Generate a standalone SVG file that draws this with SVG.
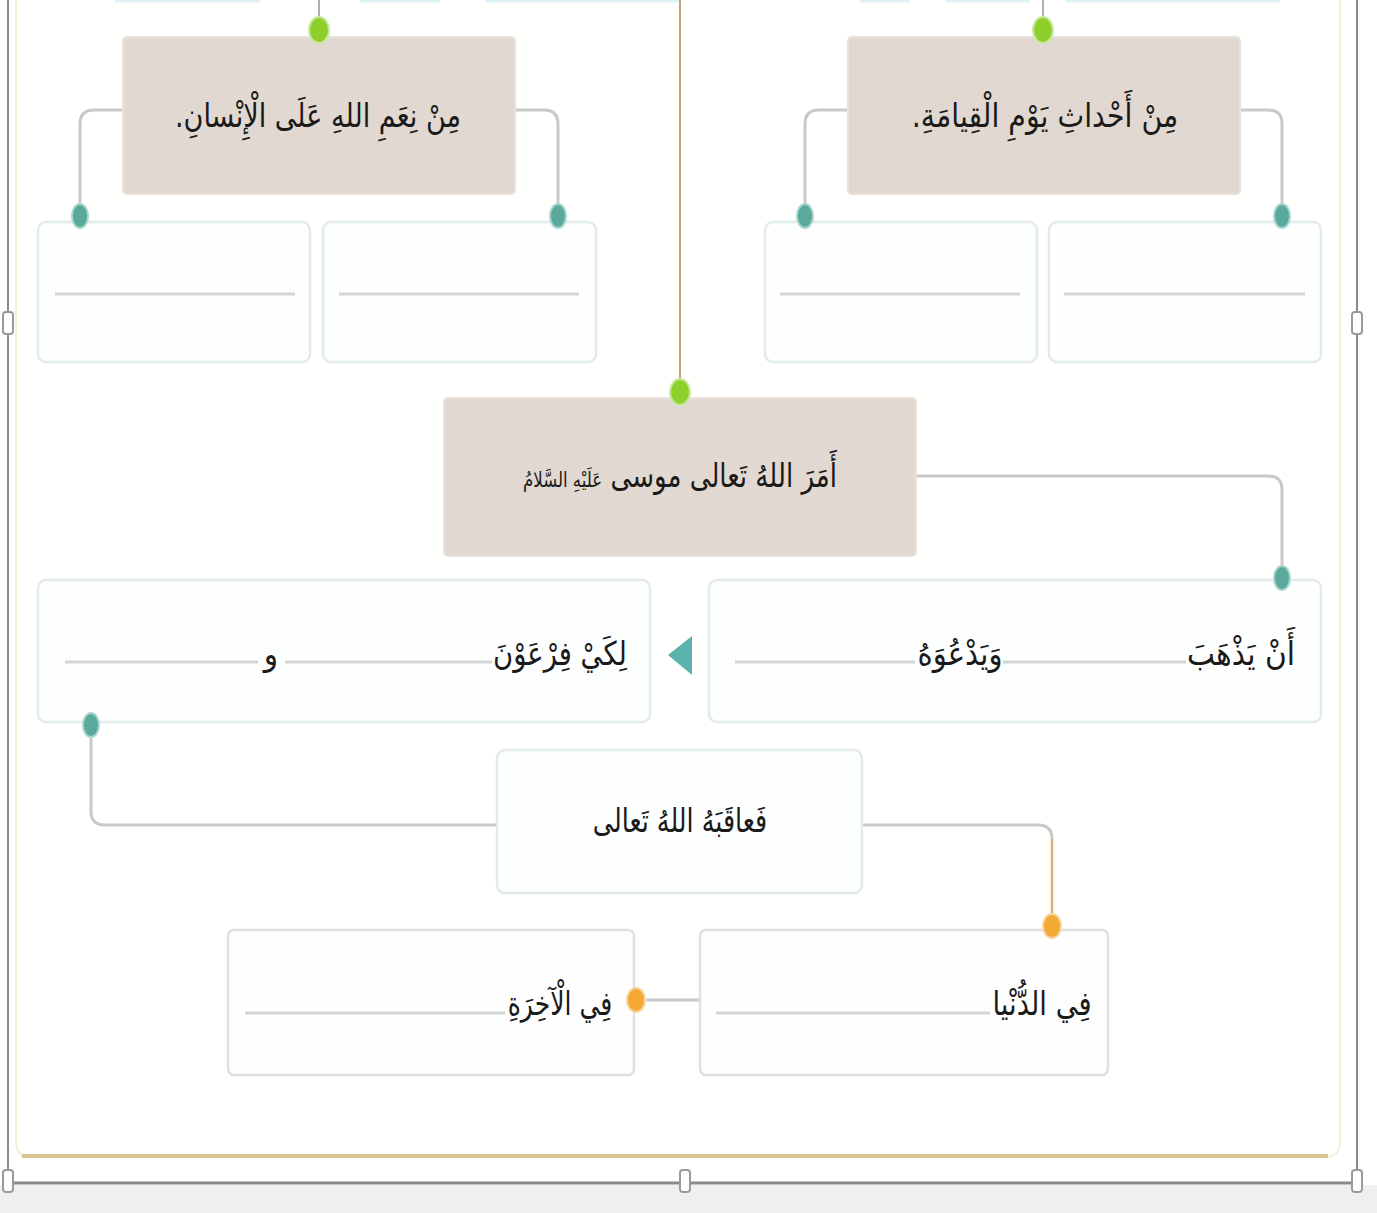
<svg xmlns="http://www.w3.org/2000/svg" width="1377" height="1213" viewBox="0 0 1377 1213">
<defs>
<style>
.beige{fill:#e1d9d1;stroke:#e8e2dc;stroke-width:2}
.ans{fill:#fdfefe;stroke:#e2ecec;stroke-width:2.5}
.ans2{fill:#fefefe;stroke:#e0e0e0;stroke-width:2.5}
.blank{stroke:#d4d4d4;stroke-width:3;fill:none}
.conn{stroke:#c9c9c9;stroke-width:3;fill:none}
.tx{font-family:"DejaVu Sans","Noto Sans",sans-serif;fill:#1a1a1a;text-anchor:middle;font-size:33px}
.green{fill:#8fcf2c;stroke:#c7e9a0;stroke-width:2}
.teal{fill:#5aa99c;stroke:#a7d6ce;stroke-width:2}
.orange{fill:#f2aa35;stroke:#f8d49a;stroke-width:2}
.handle{fill:#ffffff;stroke:#9a9a9a;stroke-width:2}
</style>
</defs>
<rect x="0" y="0" width="1377" height="1213" fill="#ffffff"/>
<rect x="0" y="1185" width="1377" height="28" fill="#efefef"/>
<!-- panel -->
<path d="M16 0 V1142 Q16 1157 31 1157 H1325 Q1340 1157 1340 1142 V0" fill="#fffffd" stroke="#f3efd8" stroke-width="2"/>
<line x1="22" y1="1156" x2="1328" y2="1156" stroke="#dcc48f" stroke-width="4"/>
<!-- top cyan hints -->
<g stroke="#dff3f6" stroke-width="3">
<line x1="115" y1="1" x2="260" y2="1"/><line x1="360" y1="1" x2="440" y2="1"/><line x1="485" y1="1" x2="680" y2="1"/><line x1="860" y1="1" x2="910" y2="1"/><line x1="945" y1="1" x2="1030" y2="1"/><line x1="1065" y1="1" x2="1280" y2="1"/>
</g>
<!-- outer frame -->
<line x1="8" y1="0" x2="8" y2="1183" stroke="#8a8a8a" stroke-width="2"/>
<line x1="1357" y1="0" x2="1357" y2="1183" stroke="#8a8a8a" stroke-width="2"/>
<line x1="8" y1="1183" x2="1357" y2="1183" stroke="#8a8a8a" stroke-width="3"/>
<g id="handles">
<rect class="handle" x="3" y="312" width="10" height="22" rx="3"/>
<rect class="handle" x="1352" y="312" width="10" height="22" rx="3"/>
<rect class="handle" x="3" y="1170" width="10" height="22" rx="3"/>
<rect class="handle" x="680" y="1170" width="10" height="22" rx="3"/>
<rect class="handle" x="1352" y="1170" width="10" height="22" rx="3"/>
</g>
<!-- connectors -->
<g id="connectors">
<line x1="680" y1="0" x2="680" y2="392" stroke="#c2a27e" stroke-width="2"/>
<line x1="319" y1="0" x2="319" y2="30" stroke="#b0b0b0" stroke-width="2"/>
<line x1="1043" y1="0" x2="1043" y2="30" stroke="#b0b0b0" stroke-width="2"/>
<path class="conn" d="M123 110 H94 Q80 110 80 124 V216"/>
<path class="conn" d="M515 110 H544 Q558 110 558 124 V216"/>
<path class="conn" d="M848 110 H819 Q805 110 805 124 V216"/>
<path class="conn" d="M1240 110 H1268 Q1282 110 1282 124 V216"/>
<path class="conn" d="M916 476 H1268 Q1282 476 1282 490 V578"/>
<path class="conn" d="M91 725 V811 Q91 825 105 825 H497"/>
<path class="conn" d="M862 825 H1038 Q1052 825 1052 839"/>
<line x1="1052" y1="839" x2="1052" y2="926" stroke="#d9b27a" stroke-width="2.5"/>
<line x1="646" y1="1000" x2="700" y2="1000" stroke="#c9c9c9" stroke-width="3"/>
</g>
<!-- top left -->
<g id="node-nieam">
<rect class="beige" x="123" y="37" width="392" height="157" rx="4"/>
<text class="tx" transform="translate(318 127) scale(0.82 1)" direction="rtl">مِنْ نِعَمِ اللهِ عَلَى الْإِنْسانِ.</text>
</g>
<g id="node-ahdath">
<rect class="beige" x="848" y="37" width="392" height="157" rx="4"/>
<text class="tx" transform="translate(1045 127) scale(0.86 1)" direction="rtl">مِنْ أَحْداثِ يَوْمِ الْقِيامَةِ.</text>
</g>
<g id="ans-1"><rect class="ans" x="38" y="222" width="272" height="140" rx="8"/><line class="blank" x1="55" y1="294" x2="295" y2="294"/></g>
<g id="ans-2"><rect class="ans" x="323" y="222" width="273" height="140" rx="8"/><line class="blank" x1="339" y1="294" x2="579" y2="294"/></g>
<g id="ans-3"><rect class="ans" x="765" y="222" width="272" height="140" rx="8"/><line class="blank" x1="780" y1="294" x2="1020" y2="294"/></g>
<g id="ans-4"><rect class="ans" x="1049" y="222" width="272" height="140" rx="8"/><line class="blank" x1="1064" y1="294" x2="1305" y2="294"/></g>
<!-- center -->
<g id="node-amara">
<rect class="beige" x="444" y="398" width="472" height="158" rx="4"/>
<text class="tx" transform="translate(680 487) scale(0.79 1)" direction="rtl">أَمَرَ اللهُ تَعالى موسى <tspan font-size="21">عَلَيْهِ السَّلامُ</tspan></text>
</g>
<g id="node-an-yadhhab">
<rect class="ans" x="709" y="580" width="612" height="142" rx="8"/>
<line class="blank" x1="1003" y1="662" x2="1186" y2="662"/>
<line class="blank" x1="735" y1="662" x2="915" y2="662"/>
<text class="tx" transform="translate(1241 665) scale(0.9 1)" direction="rtl">أَنْ يَذْهَبَ</text>
<text class="tx" transform="translate(960 665) scale(0.88 1)" direction="rtl">وَيَدْعُوَهُ</text>
</g>
<polygon id="arrow" points="668,655 692,636 692,675" fill="#5ab4ad"/>
<g id="node-likay">
<rect class="ans" x="38" y="580" width="612" height="142" rx="8"/>
<line class="blank" x1="285" y1="662" x2="492" y2="662"/>
<line class="blank" x1="65" y1="662" x2="258" y2="662"/>
<text class="tx" transform="translate(560 665) scale(0.83 1)" direction="rtl">لِكَيْ فِرْعَوْنَ</text>
<text class="tx" transform="translate(271 665) scale(0.9 1)" direction="rtl">و</text>
</g>
<g id="node-faaqabahu">
<rect class="ans" x="497" y="750" width="365" height="143" rx="8"/>
<text class="tx" transform="translate(680 832) scale(0.77 1)" direction="rtl">فَعاقَبَهُ اللهُ تَعالى</text>
</g>
<g id="node-dunya">
<rect class="ans2" x="700" y="930" width="408" height="145" rx="6"/>
<line class="blank" x1="716" y1="1013" x2="990" y2="1013"/>
<text class="tx" transform="translate(1042 1015) scale(0.83 1)" direction="rtl">فِي الدُّنْيا</text>
</g>
<g id="node-akhira">
<rect class="ans2" x="228" y="930" width="406" height="145" rx="6"/>
<line class="blank" x1="245" y1="1013" x2="505" y2="1013"/>
<text class="tx" transform="translate(560 1015) scale(0.76 1)" direction="rtl">فِي الْآخِرَةِ</text>
</g>
<!-- dots -->
<g id="dots">
<ellipse class="green" cx="319" cy="30" rx="10" ry="13"/>
<ellipse class="green" cx="1043" cy="30" rx="10" ry="13"/>
<ellipse class="green" cx="680" cy="392" rx="10" ry="13"/>
<ellipse class="teal" cx="80" cy="216" rx="8" ry="12"/>
<ellipse class="teal" cx="558" cy="216" rx="8" ry="12"/>
<ellipse class="teal" cx="805" cy="216" rx="8" ry="12"/>
<ellipse class="teal" cx="1282" cy="216" rx="8" ry="12"/>
<ellipse class="teal" cx="1282" cy="578" rx="8" ry="12"/>
<ellipse class="teal" cx="91" cy="725" rx="8" ry="12"/>
<ellipse class="orange" cx="1052" cy="926" rx="9" ry="12"/>
<ellipse class="orange" cx="636" cy="1000" rx="9" ry="12"/>
</g>
</svg>
